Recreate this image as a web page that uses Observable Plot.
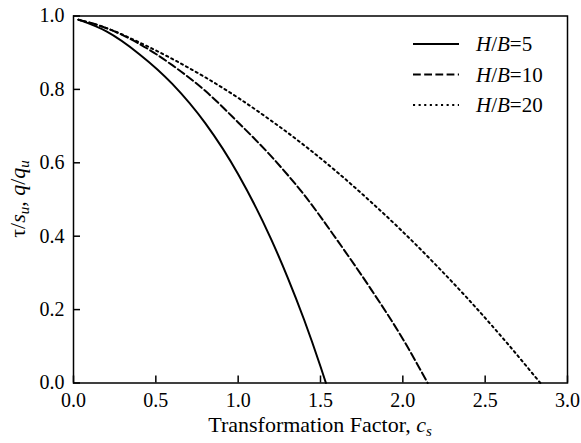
<!DOCTYPE html>
<html><head><meta charset="utf-8">
<script src="https://cdn.jsdelivr.net/npm/d3@7"></script>
<script src="https://cdn.jsdelivr.net/npm/@observablehq/plot@0.6"></script>
<style>
body{margin:0;background:#fff}
svg, svg text, svg tspan{font-family:"Liberation Serif","Times New Roman",Tinos,serif !important}
</style>
</head><body><div id="chart"></div>
<script>
// ---- data ----
const xTicks = [0, 0.5, 1.0, 1.5, 2.0, 2.5, 3.0];
const yTicks = [0, 0.2, 0.4, 0.6, 0.8, 1.0];
const seriesLabels = ["5", "10", "20"];

const hb5X = [0.03, 0.2, 0.4, 0.6, 0.8, 1.0, 1.2, 1.3, 1.4, 1.5, 1.533];
const hb5Y = [0.99, 0.958, 0.896, 0.815, 0.708, 0.569, 0.392, 0.288, 0.173, 0.045, 0];

const hb10X = [0.03, 0.2, 0.4, 0.6, 0.8, 1.0, 1.2, 1.4, 1.6, 1.8, 2.0, 2.151];
const hb10Y = [0.99, 0.967, 0.924, 0.866, 0.796, 0.71, 0.618, 0.513, 0.39, 0.26, 0.12, 0];

const hb20X = [0.03, 0.2, 0.4, 0.6, 0.8, 1.0, 1.2, 1.4, 1.6, 1.8, 2.0, 2.2, 2.4, 2.6, 2.835];
const hb20Y = [0.99, 0.967, 0.928, 0.883, 0.833, 0.777, 0.715, 0.648, 0.575, 0.496, 0.412, 0.322, 0.227, 0.126, 0];

// ---- build tables ----
const toRows = (xs, ys) => xs.map((x, i) => ({x, y: ys[i]}));
const rows5 = toRows(hb5X, hb5Y);
const rows10 = toRows(hb10X, hb10Y);
const rows20 = toRows(hb20X, hb20Y);

const styles = [
  {dash: null},
  {dash: "7.8,3.4"},
  {dash: "2.1,3.5"}
];

const FONT = "'Liberation Serif', 'Times New Roman', Tinos, serif";
const width = 581, height = 443;
const mt = 15.5, mr = 14, mb = 60.5, ml = 73;

const plot = Plot.plot({
  width, height,
  marginTop: mt, marginRight: mr, marginBottom: mb, marginLeft: ml,
  style: {fontFamily: FONT, fontSize: "20px", background: "white", color: "black", overflow: "visible"},
  x: {domain: [0, 3], label: null},
  y: {domain: [0, 1], label: null},
  marks: [
    Plot.axisX(xTicks, {tickSize: -7, tickFormat: () => "", strokeWidth: 1.5}),
    Plot.axisX(xTicks, {tickSize: 0, tickPadding: 10, tickFormat: d3.format(".1f"), fontSize: 20}),
    Plot.axisY(yTicks, {tickSize: -7, tickFormat: () => "", strokeWidth: 1.5}),
    Plot.axisY(yTicks, {tickSize: 0, tickPadding: 9, tickFormat: d3.format(".1f"), fontSize: 20}),
    Plot.line(rows5, {x: "x", y: "y", stroke: "black", strokeWidth: 2, curve: "monotone-x"}),
    Plot.line(rows10, {x: "x", y: "y", stroke: "black", strokeWidth: 2, curve: "monotone-x", strokeDasharray: styles[1].dash}),
    Plot.line(rows20, {x: "x", y: "y", stroke: "black", strokeWidth: 2, curve: "monotone-x", strokeDasharray: styles[2].dash}),
    Plot.frame({stroke: "black", strokeWidth: 1.5})
  ]
});

document.getElementById("chart").appendChild(plot);

// ---- titles and legend ----
const svg = d3.select(plot);
const fx0 = ml, fx1 = width - mr, fy0 = mt, fy1 = height - mb;

// x title
const xt = svg.append("text")
  .attr("x", (fx0 + fx1) / 2).attr("y", fy1 + 49)
  .attr("text-anchor", "middle").attr("font-size", 22).attr("fill", "black");
xt.append("tspan").text("Transformation Factor, ");
xt.append("tspan").attr("font-style", "italic").text("c");
xt.append("tspan").attr("font-style", "italic").attr("font-size", 15).attr("dy", 4).text("s");

// y title
const yt = svg.append("text")
  .attr("transform", `translate(25,${(fy0 + fy1) / 2}) rotate(-90)`)
  .attr("text-anchor", "middle").attr("font-size", 22).attr("fill", "black");
yt.append("tspan").text("τ/");
yt.append("tspan").attr("font-style", "italic").text("s");
yt.append("tspan").attr("font-style", "italic").attr("font-size", 15).attr("dy", 4).text("u");
yt.append("tspan").attr("dy", -4).text(", ");
yt.append("tspan").attr("font-style", "italic").text("q");
yt.append("tspan").text("/");
yt.append("tspan").attr("font-style", "italic").text("q");
yt.append("tspan").attr("font-style", "italic").attr("font-size", 15).attr("dy", 4).text("u");

// legend
const lg = svg.append("g");
const lx0 = fx1 - 154, lx1 = fx1 - 108, ltx = fx1 - 91;
seriesLabels.forEach((lab, i) => {
  const yy = fy0 + 28.5 + i * 30.5;
  const ln = lg.append("line").attr("x1", lx0).attr("x2", lx1).attr("y1", yy).attr("y2", yy)
    .attr("stroke", "black").attr("stroke-width", 2);
  if (styles[i].dash) ln.attr("stroke-dasharray", styles[i].dash);
  const t = lg.append("text").attr("x", ltx).attr("y", yy).attr("dy", "0.35em")
    .attr("text-anchor", "start").attr("font-size", 21).attr("fill", "black");
  t.append("tspan").attr("font-style", "italic").text("H");
  t.append("tspan").text("/");
  t.append("tspan").attr("font-style", "italic").text("B");
  t.append("tspan").text("=" + lab);
});
</script>
</body></html>
